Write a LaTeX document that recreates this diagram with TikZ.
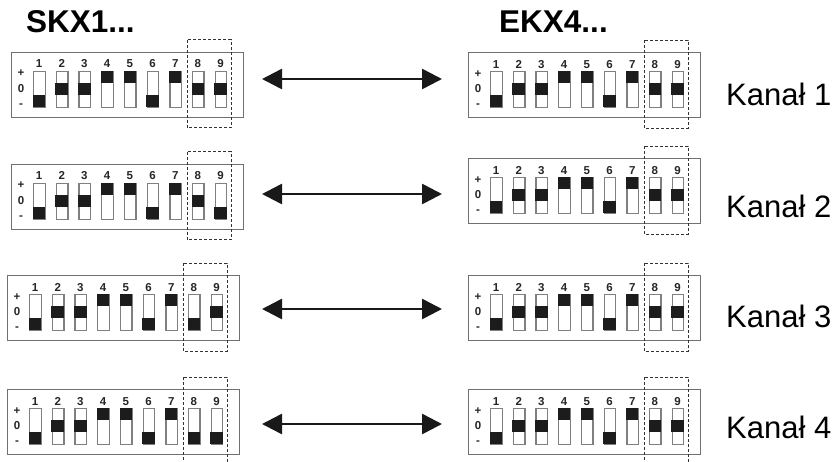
\documentclass[tikz,border=0pt]{standalone}
\usepackage{fontspec}
\setmainfont{Liberation Sans}
\usetikzlibrary{arrows.meta}
\definecolor{rim}{HTML}{707070}
\definecolor{swrim}{HTML}{808080}
\definecolor{knob}{HTML}{1C1C1C}
\tikzset{
  panelbox/.style={draw=rim,line width=1.4pt,fill=white,inner sep=0pt,minimum width=232pt,minimum height=65pt,anchor=north west},
  swbox/.style={draw=swrim,line width=1.3pt,fill=white,inner sep=0pt,minimum width=11.5pt,minimum height=36pt,anchor=north west},
  swknob/.style={fill=knob,inner sep=0pt,minimum width=12.5pt,minimum height=12pt,anchor=north west},
  digit/.style={font=\fontsize{11.5}{11.5}\bfseries\selectfont,text=black!85,inner sep=0pt,anchor=base},
  sign/.style={font=\fontsize{11.5}{11.5}\bfseries\selectfont,text=black!85,inner sep=0pt},
  dashbox/.style={draw=black!80,line width=0.9pt,dash pattern=on 3pt off 2pt},
  link/.style={draw=black!90,line width=2.6pt,{Triangle[length=20pt,width=20pt]}-{Triangle[length=20pt,width=20pt]}},
  head/.style={font=\fontsize{31.5}{31.5}\bfseries\selectfont,inner sep=0pt,anchor=base west},
  chan/.style={font=\fontsize{31}{31}\selectfont,inner sep=0pt,anchor=base west},
}
\newcommand{\dippanel}[4]{%
  \node[panelbox] (#1) at (#2,#3) {};
  \node[sign] (#1plus) at ({#2+10},{#3+22}) {+};
  \node[sign] (#1zero) at ({#2+10},{#3+37}) {0};
  \node[sign] (#1minus) at ({#2+10},{#3+54}) {-};
  \foreach \p [count=\i] in {#4} {
    \pgfmathsetmacro{\sx}{#2+22+(\i-1)*22.7}
    \pgfmathsetmacro{\sy}{#3+19}
    \node[digit] (#1d\i) at ({\sx+6},{\sy-3}) {\i};
    \node[swbox] (#1s\i) at (\sx,\sy) {};
    \node[swknob] (#1k\i) at ({\sx-0.5},{\sy+\p*12}) {};
  }
  \draw[dashbox] ({#2+176},{#3-12}) rectangle ({#2+220},{#3+76});
}
\begin{document}
\begin{tikzpicture}[x=1pt,y=-1pt]
\clip (0,0) rectangle (834,461);
\node[head] (skx) at (26,32) {SKX1...};
\node[head] (ekx) at (499,32) {EKX4...};
\dippanel{la}{11}{51.5}{2,1,1,0,0,2,0,1,1}
\dippanel{lb}{11}{163.5}{2,1,1,0,0,2,0,1,2}
\dippanel{lc}{7}{275}{2,1,1,0,0,2,0,2,1}
\dippanel{ld}{7}{389}{2,1,1,0,0,2,0,2,2}
\dippanel{ra}{468}{52}{2,1,1,0,0,2,0,1,1}
\dippanel{rb}{468}{158}{2,1,1,0,0,2,0,1,1}
\dippanel{rc}{468}{275}{2,1,1,0,0,2,0,1,1}
\dippanel{rd}{468}{389}{2,1,1,0,0,2,0,1,1}
\coordinate (aw) at (262,79); \coordinate (ae) at (442,79);
\coordinate (bw) at (262,194); \coordinate (be) at (442,194);
\coordinate (cw) at (262,309); \coordinate (ce) at (442,309);
\coordinate (dw) at (262,424); \coordinate (de) at (442,424);
\draw[link] (aw) -- (ae);
\draw[link] (bw) -- (be);
\draw[link] (cw) -- (ce);
\draw[link] (dw) -- (de);
\node[chan] (k1) at (726,105) {Kanał 1};
\node[chan] (k2) at (726,217) {Kanał 2};
\node[chan] (k3) at (726,327) {Kanał 3};
\node[chan] (k4) at (726,438) {Kanał 4};
\end{tikzpicture}
\end{document}
